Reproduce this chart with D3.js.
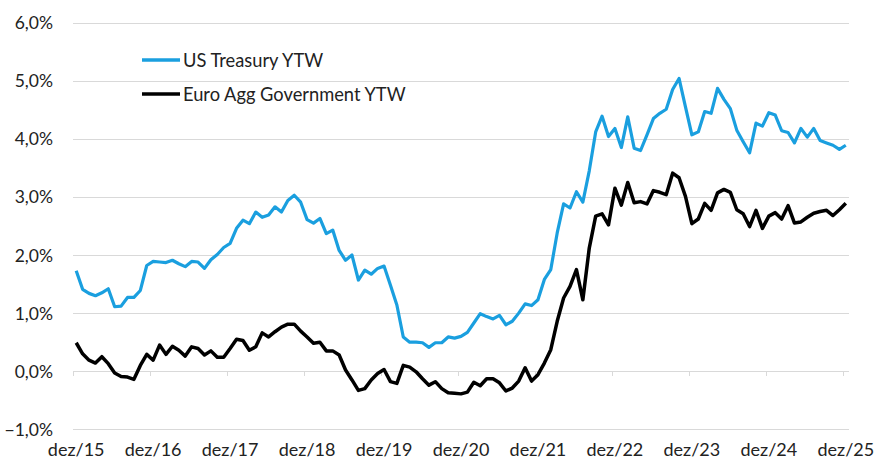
<!DOCTYPE html>
<html><head><meta charset="utf-8">
<script src="https://cdn.jsdelivr.net/npm/d3@7"></script>
<style>
html,body{margin:0;padding:0;background:#fff;}
svg{display:block;}
text{font-family:Lato, "Liberation Sans", sans-serif; fill:#222;}
</style></head>
<body>
<svg id="chart" width="874" height="459"></svg>
<script>
// ---- data (monthly, Dec 2015 .. Dec 2025) ----
const startMonth = "2015-12";
const endMonth = "2025-12";
const yTicks = [-1, 0, 1, 2, 3, 4, 5, 6];
const xTickLabels = ["dez/15","dez/16","dez/17","dez/18","dez/19","dez/20","dez/21","dez/22","dez/23","dez/24","dez/25"];
const seriesNames = ["US Treasury YTW", "Euro Agg Government YTW"];
const usTreasury = [
  1.73,1.41,1.34,1.30,1.35,1.42,1.11,1.12,1.27,1.27,1.39,1.82,
  1.89,1.88,1.87,1.91,1.85,1.80,1.89,1.88,1.77,1.92,2.01,2.13,
  2.20,2.46,2.60,2.54,2.74,2.65,2.69,2.83,2.74,2.94,3.03,2.91,
  2.61,2.55,2.63,2.37,2.43,2.08,1.91,2.00,1.57,1.74,1.67,1.77,
  1.81,1.48,1.14,0.59,0.50,0.50,0.49,0.41,0.49,0.49,0.59,0.57,
  0.60,0.67,0.83,0.99,0.94,0.90,0.96,0.80,0.86,1.00,1.16,1.13,
  1.23,1.58,1.75,2.38,2.88,2.81,3.09,2.91,3.45,4.12,4.39,4.04,
  4.18,3.85,4.38,3.84,3.80,4.07,4.35,4.44,4.51,4.85,5.04,4.55,
  4.07,4.12,4.47,4.44,4.87,4.68,4.52,4.15,3.95,3.76,4.27,4.22,
  4.45,4.41,4.14,4.11,3.93,4.18,4.03,4.18,3.97,3.93,3.89,3.82,
  3.89
];
const euroAggGov = [
  0.49,0.30,0.19,0.14,0.25,0.13,-0.03,-0.09,-0.10,-0.14,0.10,0.29,
  0.19,0.45,0.29,0.43,0.36,0.26,0.42,0.39,0.28,0.35,0.24,0.24,
  0.39,0.55,0.53,0.36,0.42,0.66,0.59,0.68,0.76,0.81,0.81,0.69,
  0.59,0.48,0.50,0.35,0.35,0.28,0.02,-0.15,-0.33,-0.30,-0.15,-0.04,
  0.03,-0.18,-0.21,0.10,0.07,-0.01,-0.13,-0.24,-0.18,-0.30,-0.37,-0.38,
  -0.39,-0.36,-0.19,-0.25,-0.13,-0.13,-0.20,-0.34,-0.29,-0.17,0.06,-0.17,
  -0.06,0.14,0.37,0.86,1.26,1.46,1.75,1.23,2.12,2.67,2.71,2.52,
  3.15,2.86,3.25,2.90,2.92,2.88,3.11,3.08,3.04,3.41,3.33,3.01,
  2.54,2.62,2.89,2.77,3.07,3.13,3.08,2.78,2.71,2.49,2.77,2.46,
  2.67,2.73,2.62,2.85,2.55,2.57,2.65,2.72,2.75,2.77,2.68,2.78,
  2.89
];
const colors = ["#1a9fdf", "#000000"];

// ---- layout ----
const svg = d3.select("#chart");
const plot = {left: 73, right: 849, top: 22.7, bottom: 429.3};
const parse = d3.timeParse("%Y-%m");
const months = d3.timeMonth.range(parse(startMonth), d3.timeMonth.offset(parse(endMonth), 1));

const x = d3.scaleBand().domain(months.map(d => +d)).range([plot.left, plot.right]).padding(0);
const y = d3.scaleLinear().domain([-1, 6]).range([plot.bottom, plot.top]);
const cx = d => x(+d) + x.bandwidth() / 2;

// gridlines
svg.append("g").selectAll("line").data(yTicks).join("line")
  .attr("x1", plot.left).attr("x2", plot.right)
  .attr("y1", d => Math.round(y(d)) + 0.5).attr("y2", d => Math.round(y(d)) + 0.5)
  .attr("stroke", "#d9d9d9").attr("stroke-width", 1);

// y labels
const fmt = d => d3.format(".1f")(d).replace(".", ",") + "%";
svg.append("g").selectAll("text").data(yTicks).join("text")
  .attr("x", 53).attr("y", d => y(d))
  .attr("text-anchor", "end").attr("dominant-baseline", "central")
  .style("font-size", "17.5px")
  .text(fmt);

// x ticks on zero line (December of each year)
const decs = months.filter(d => d.getMonth() === 11);
svg.append("g").selectAll("line").data(decs).join("line")
  .attr("x1", d => Math.round(x(+d)) + 0.5).attr("x2", d => Math.round(x(+d)) + 0.5)
  .attr("y1", Math.round(y(0))).attr("y2", Math.round(y(0)) + 5)
  .attr("stroke", "#d9d9d9").attr("stroke-width", 1);

// x labels
svg.append("g").selectAll("text").data(decs).join("text")
  .attr("x", d => cx(d)).attr("y", 456)
  .attr("text-anchor", "middle")
  .style("font-size", "18px")
  .text((d, i) => xTickLabels[i]);

// lines
const seriesData = [usTreasury, euroAggGov];
const line = d3.line().x((d, i) => cx(months[i])).y(d => y(d));
svg.append("g").selectAll("path").data(seriesData).join("path")
  .attr("d", d => line(d))
  .attr("fill", "none")
  .attr("stroke", (d, i) => colors[i])
  .attr("stroke-width", (d, i) => i === 0 ? 3.2 : 3.5)
  .attr("stroke-linejoin", "round");

// legend
const leg = svg.append("g");
seriesNames.forEach((name, i) => {
  const ly = 60 + i * 34;
  leg.append("line").attr("x1", 142).attr("x2", 180).attr("y1", ly).attr("y2", ly)
    .attr("stroke", colors[i]).attr("stroke-width", 3.5);
  leg.append("text").attr("x", 183).attr("y", ly).attr("dominant-baseline", "central")
    .style("font-size", "18.3px").text(name);
});
</script>
</body></html>
